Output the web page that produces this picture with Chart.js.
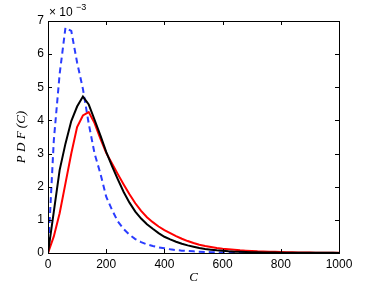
<!DOCTYPE html>
<html lang="en">
<head>
  <meta charset="UTF-8" />
  <title>PDF(C)</title>
  <script src="https://cdn.jsdelivr.net/npm/chart.js"></script>
  <style>
    body { margin: 0; background: #fff; }
    #wrap { width: 374px; height: 285px; position: relative; }
  </style>
</head>
<body>
  <div id="wrap"><canvas id="pdfChart"></canvas></div>

  <script>
    // values in units of 1e-3
    const cValues = [0, 20, 40, 60, 80, 100, 120, 140, 160, 180, 200, 220, 240, 260, 280, 300, 320, 340, 360, 380,
      400, 420, 440, 460, 480, 500, 520, 540, 560, 580, 600, 620, 640, 660, 680, 700, 720, 740, 760, 780,
      800, 820, 840, 860, 880, 900, 920, 940, 960, 980, 1000];
    const blackPdf = [0, 1.25, 2.5, 3.3, 3.98, 4.42, 4.72, 4.48, 4.02, 3.55, 3.05, 2.62, 2.22, 1.84, 1.52, 1.25, 1.04, 0.87, 0.73, 0.6,
      0.49, 0.41, 0.34, 0.28, 0.23, 0.19, 0.15, 0.12, 0.1, 0.08, 0.065, 0.05, 0.04, 0.035, 0.03, 0.025, 0.02, 0.018, 0.015, 0.013,
      0.011, 0.01, 0.009, 0.008, 0.007, 0.006, 0.005, 0.005, 0.004, 0.004, 0.003];
    const redPdf = [0, 0.5, 1.2, 2.1, 3.0, 3.8, 4.15, 4.25, 3.92, 3.45, 3.02, 2.7, 2.38, 2.07, 1.77, 1.5, 1.27, 1.08, 0.93, 0.8,
      0.69, 0.6, 0.51, 0.43, 0.36, 0.3, 0.25, 0.21, 0.18, 0.15, 0.125, 0.11, 0.095, 0.08, 0.07, 0.06, 0.05, 0.045, 0.04, 0.035,
      0.03, 0.025, 0.02, 0.018, 0.015, 0.012, 0.01, 0.008, 0.007, 0.006, 0.005];
    const bluePdf = [0, 3.4, 5.4, 6.8, 6.7, 5.75, 4.95, 3.9, 3.0, 2.4, 1.7, 1.3, 0.95, 0.72, 0.55, 0.42, 0.33, 0.26, 0.21, 0.17,
      0.14, 0.11, 0.09, 0.07, 0.06, 0.05, 0.04, 0.03, 0.025, 0.02, 0.015, 0.012, 0.01, 0.008, 0.006, 0.005, 0.004, 0.003, 0.003, 0.002,
      0.002, 0.002, 0.001, 0.001, 0.001, 0.001, 0.001, 0, 0, 0, 0];
    const xTicks = [0, 200, 400, 600, 800, 1000];
    const yTicks = [0, 1, 2, 3, 4, 5, 6, 7];

    const toPoints = arr => arr.map((v, i) => ({ x: cValues[i], y: v }));

    // matlab style box with inward ticks and the exponent label
    const matlabBox = {
      id: 'matlabBox',
      afterDraw(chart) {
        const { ctx, chartArea: a, scales } = chart;
        ctx.save();
        ctx.strokeStyle = '#000';
        ctx.lineWidth = 1;
        ctx.strokeRect(Math.round(a.left) + 0.5, Math.round(a.top) + 0.5,
          Math.round(a.right - a.left), Math.round(a.bottom - a.top));
        ctx.beginPath();
        xTicks.forEach(t => {
          const px = Math.round(scales.x.getPixelForValue(t)) + 0.5;
          ctx.moveTo(px, a.bottom); ctx.lineTo(px, a.bottom - 4);
          ctx.moveTo(px, a.top); ctx.lineTo(px, a.top + 4);
        });
        yTicks.forEach(t => {
          const py = Math.round(scales.y.getPixelForValue(t)) + 0.5;
          ctx.moveTo(a.left, py); ctx.lineTo(a.left + 4, py);
          ctx.moveTo(a.right, py); ctx.lineTo(a.right - 4, py);
        });
        ctx.stroke();

        ctx.fillStyle = '#000';
        ctx.textBaseline = 'alphabetic';
        ctx.font = '12px "Liberation Sans", Arial, sans-serif';
        ctx.fillText('\u00d7 10', a.left + 1, a.top - 5);
        ctx.font = '9px "Liberation Sans", Arial, sans-serif';
        ctx.fillText('\u22123', a.left + 28, a.top - 11);
        ctx.restore();
      }
    };

    new Chart(document.getElementById('pdfChart'), {
      type: 'line',
      data: {
        datasets: [
          { data: toPoints(blackPdf), borderColor: '#000', borderWidth: 2 },
          { data: toPoints(redPdf), borderColor: '#ff0000', borderWidth: 2 },
          { data: toPoints(bluePdf), borderColor: '#2a3cff', borderWidth: 2, borderDash: [6, 4] }
        ]
      },
      options: {
        responsive: true,
        maintainAspectRatio: false,
        animation: false,
        events: [],
        layout: { padding: { left: 0, right: 35, top: 21, bottom: 0 } },
        elements: { point: { radius: 0 }, line: { tension: 0, borderJoinStyle: 'miter' } },
        plugins: { legend: { display: false }, tooltip: { enabled: false } },
        scales: {
          x: {
            type: 'linear', min: 0, max: 1000,
            afterBuildTicks: s => { s.ticks = xTicks.map(v => ({ value: v })); },
            afterFit: s => { s.height = 32; },
            grid: { display: false, drawTicks: false },
            border: { display: false },
            ticks: { color: '#000', padding: 4, callback: v => String(v),
              font: { family: '"Liberation Sans", Arial, sans-serif', size: 12 } },
            title: { display: true, text: 'C', color: '#000', padding: { top: 0, bottom: 0 },
              font: { family: '"Liberation Serif", serif', style: 'italic', size: 13 } }
          },
          y: {
            type: 'linear', min: 0, max: 7,
            afterBuildTicks: s => { s.ticks = yTicks.map(v => ({ value: v })); },
            afterFit: s => { s.width = 48; },
            grid: { display: false, drawTicks: false },
            border: { display: false },
            ticks: { color: '#000', padding: 4, callback: v => String(v),
              font: { family: '"Liberation Sans", Arial, sans-serif', size: 12 } },
            title: { display: true, text: 'P D F (C)', color: '#000', padding: { top: 14, bottom: 0 },
              font: { family: '"Liberation Serif", serif', style: 'italic', size: 13 } }
          }
        }
      },
      plugins: [matlabBox]
    });
  </script>
</body>
</html>
